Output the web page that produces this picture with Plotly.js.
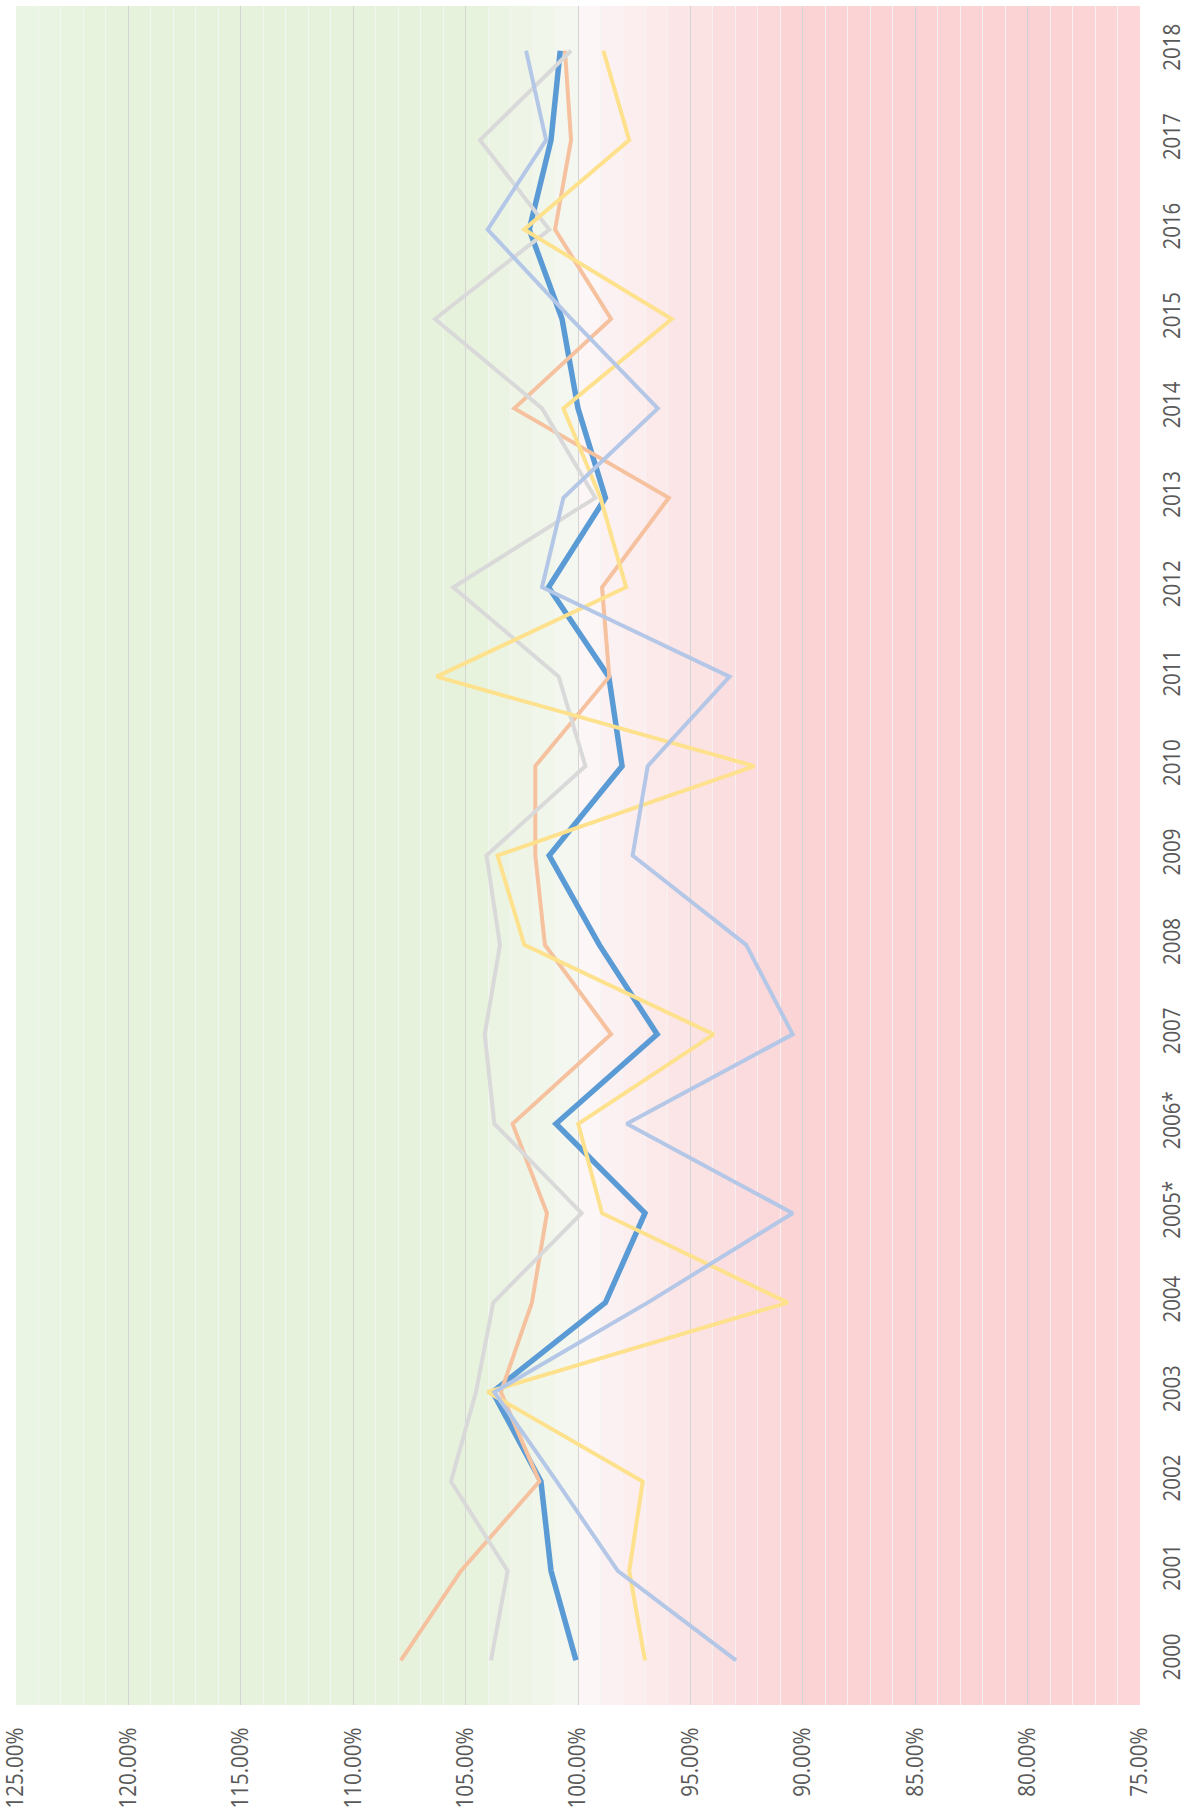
<!DOCTYPE html>
<html>
<head>
<meta charset="utf-8">
<script src="https://cdn.plot.ly/plotly-3.0.1.min.js"></script>
<style>html,body{margin:0;padding:0;background:#fff;}#chart{width:1193px;height:1818px;}</style>
</head>
<body>
<div id="chart"></div>
<script>
// Categories (years)
const years = ['2000','2001','2002','2003','2004','2005*','2006*','2007','2008','2009','2010','2011','2012','2013','2014','2015','2016','2017','2018'];

// Series values (percent)
const seriesBlue      = [100.09, 101.2, 101.65, 103.8, 98.78, 97.02, 100.98, 96.48, 99.05, 101.28, 98.04, 98.63, 101.31, 98.78, 100.0, 100.71, 102.17, 101.2, 100.79];
const seriesOrange    = [107.88, 105.21, 101.72, 103.43, 102.05, 101.38, 102.91, 98.53, 101.47, 101.9, 101.9, 98.61, 98.93, 95.96, 102.83, 98.53, 101.02, 100.31, 100.58];
const seriesGray      = [103.87, 103.13, 105.65, 104.54, 103.77, 99.84, 103.72, 104.15, 103.47, 104.07, 99.67, 100.86, 105.55, 99.23, 101.6, 106.36, 101.28, 104.36, 100.31];
const seriesYellow    = [97.02, 97.72, 97.12, 104.02, 90.67, 98.93, 99.99, 93.96, 102.39, 103.58, 92.15, 106.29, 97.86, 99.0, 100.65, 95.83, 102.39, 97.72, 98.87];
const seriesLightBlue = [92.97, 98.23, 100.95, 103.72, 96.9, 90.45, 97.83, 90.45, 92.52, 97.57, 96.9, 93.26, 101.6, 100.65, 96.45, 100.3, 104.02, 101.42, 102.31];

// Percent tick values
const pctTicks = [75, 80, 85, 90, 95, 100, 105, 110, 115, 120, 125];

function mix(a, b, t) {
  const pa = [parseInt(a.slice(1,3),16), parseInt(a.slice(3,5),16), parseInt(a.slice(5,7),16)];
  const pb = [parseInt(b.slice(1,3),16), parseInt(b.slice(3,5),16), parseInt(b.slice(5,7),16)];
  const c = pa.map((v,i) => Math.round(v + (pb[i]-v)*t));
  return 'rgb(' + c.join(',') + ')';
}
function bandColor(p) {
  if (p > 100) {
    if (p > 120) return mix('#e6f2dc', '#ebf5e4', (p - 120) / 5);
    return mix('#f5f7f2', '#e6f2dc', Math.min((p - 100) / 5, 1));
  } else {
    if (p < 80) return mix('#fbd1d3', '#fcd7d9', (80 - p) / 5);
    return mix('#fcfafa', '#fbd3d5', Math.pow(Math.min((100 - p) / 10, 1), 0.8));
  }
}

// background bands (decoration)
const shapes = [];
for (let lo = 75; lo < 125; lo += 1) {
  shapes.push({type:'rect', xref:'x', yref:'y', x0: lo, x1: lo + 1, y0: -0.5, y1: 18.5,
    fillcolor: bandColor(lo + 0.5), line:{width:0}, layer:'below'});
}

const common = {type:'scatter', mode:'lines', y: years, hoverinfo:'skip', showlegend:false};
const traces = [
  Object.assign({}, common, {name:'Series 1', x: seriesBlue, line:{color:'#5b9bd5', width:5.5}}),
  Object.assign({}, common, {name:'Series 2', x: seriesOrange, line:{color:'#f5c19e', width:4}}),
  Object.assign({}, common, {name:'Series 3', x: seriesGray, line:{color:'#d9d9d9', width:4}}),
  Object.assign({}, common, {name:'Series 4', x: seriesYellow, line:{color:'#fee18c', width:4}}),
  Object.assign({}, common, {name:'Series 5', x: seriesLightBlue, line:{color:'#b4c7e7', width:4}})
];

const tickFont = {family:'"Open Sans", "Liberation Sans", sans-serif', size:23, color:'#595959'};

const layout = {
  width: 1193, height: 1818,
  margin: {l:16, r:53, t:6, b:113, pad:0},
  paper_bgcolor:'#ffffff', plot_bgcolor:'#ffffff',
  showlegend:false,
  xaxis: {
    range:[125, 75], tickvals: pctTicks, ticktext: pctTicks.map(v => v.toFixed(2) + '%'),
    tickangle:-90, tickfont: tickFont, showgrid:true, gridcolor:'#d4d4d4', gridwidth:1,
    minor:{dtick:1, tick0:75, showgrid:true, gridcolor:'rgba(245,245,245,0.85)', gridwidth:1},
    zeroline:false, showline:false, ticks:'', ticklabelstandoff:17, ticklabeloverflow:'allow',
    fixedrange:true
  },
  yaxis: {
    type:'category', categoryarray: years, categoryorder:'array', range:[-0.5, 18.5],
    side:'right', tickangle:-90, tickfont: tickFont, showgrid:false, zeroline:false,
    showline:false, ticks:'', ticklabelstandoff:16, ticklabeloverflow:'allow', fixedrange:true
  },
  shapes: shapes
};

Plotly.newPlot('chart', traces, layout, {staticPlot:true, displayModeBar:false}).then(gd => {
  // narrow the tick label glyphs, like the reference's condensed lettering
  function squeeze(sel, f) {
    gd.querySelectorAll(sel).forEach(t => {
      const L = t.getComputedTextLength();
      t.setAttribute('lengthAdjust', 'spacingAndGlyphs');
      t.setAttribute('textLength', (L * f).toFixed(1));
    });
  }
  squeeze('g.xtick text', 0.89);
  squeeze('g.ytick text', 0.89);
});
</script>
</body>
</html>
